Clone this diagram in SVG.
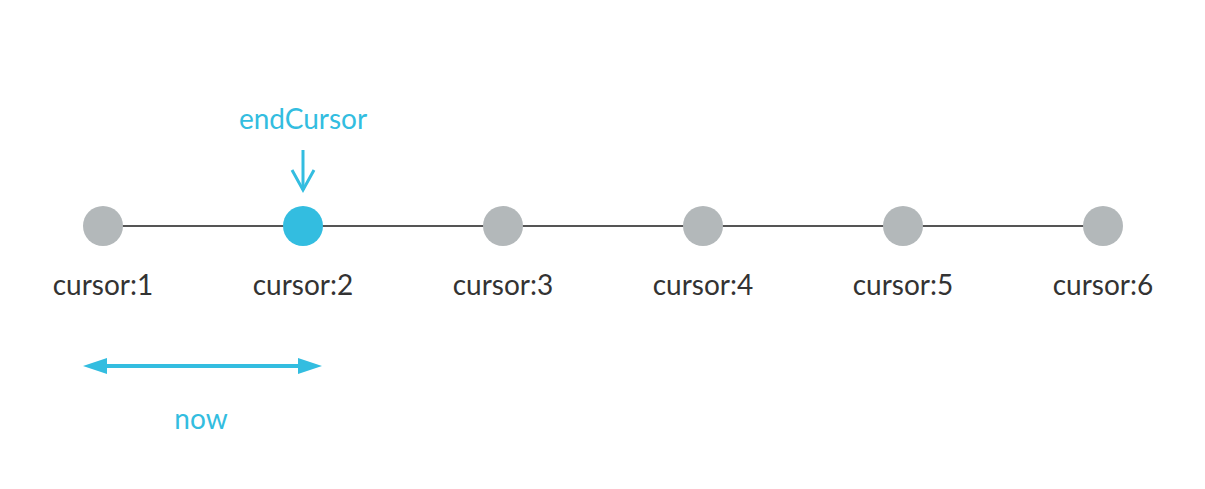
<svg xmlns="http://www.w3.org/2000/svg" width="1205" height="489" viewBox="0 0 1205 489">
<style>
.lbl{font-family:Lato,"Open Sans","Noto Sans",sans-serif;font-size:28px;fill:#333;text-anchor:middle}
.blue{fill:#33bde0}
.node{fill:#b3b8ba}
</style>
<defs>
<marker id="tri" viewBox="0 0 24 16" refX="0" refY="8" markerWidth="24" markerHeight="16" markerUnits="userSpaceOnUse" orient="auto-start-reverse">
<path d="M0,0 L24,8 L0,16 Z" fill="#33bde0"/>
</marker>
</defs>
<rect width="1205" height="489" fill="#fff"/>
<g id="connectors">
<line x1="103" y1="226" x2="1103" y2="226" stroke="#555" stroke-width="2"/>
<line x1="303" y1="150" x2="303" y2="190" stroke="#33bde0" stroke-width="3"/>
<polyline points="292,170 303,190 314,170" fill="none" stroke="#33bde0" stroke-width="3"/>
<line x1="107" y1="366" x2="298" y2="366" stroke="#33bde0" stroke-width="4" marker-start="url(#tri)" marker-end="url(#tri)"/>
</g>
<g id="n1"><circle cx="103" cy="226" r="20" class="node"/><text x="103" y="295" class="lbl">cursor:1</text></g>
<g id="n2"><circle cx="303" cy="226" r="20" fill="#33bde0"/><text x="303" y="295" class="lbl">cursor:2</text></g>
<g id="n3"><circle cx="503" cy="226" r="20" class="node"/><text x="503" y="295" class="lbl">cursor:3</text></g>
<g id="n4"><circle cx="703" cy="226" r="20" class="node"/><text x="703" y="295" class="lbl">cursor:4</text></g>
<g id="n5"><circle cx="903" cy="226" r="20" class="node"/><text x="903" y="295" class="lbl">cursor:5</text></g>
<g id="n6"><circle cx="1103" cy="226" r="20" class="node"/><text x="1103" y="295" class="lbl">cursor:6</text></g>
<g id="endCursor"><text x="303" y="129" class="lbl blue">endCursor</text></g>
<g id="now"><text x="201" y="429" class="lbl blue">now</text></g>
</svg>
